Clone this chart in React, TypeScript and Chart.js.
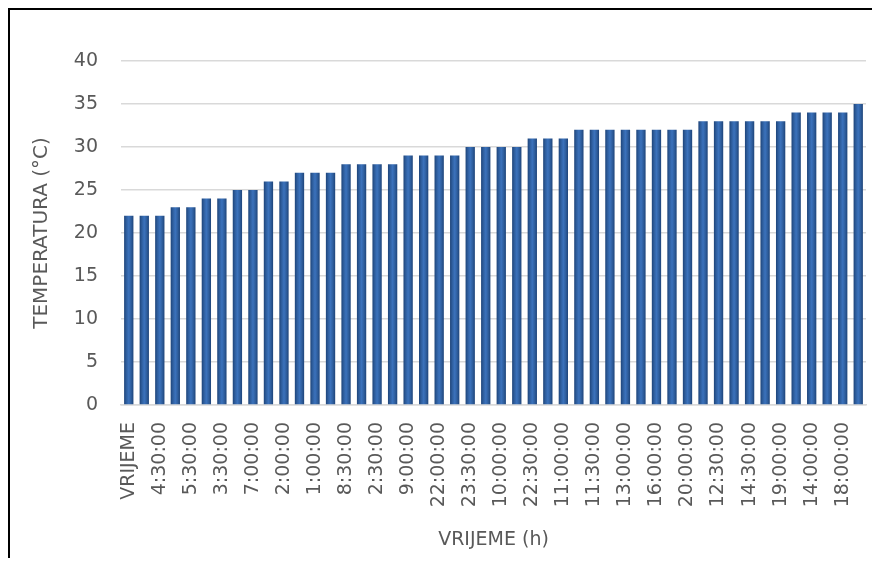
import React, { useEffect, useRef } from "react";
import { Chart, registerables } from "chart.js";

Chart.register(...registerables);

const categories: string[] = [
  "VRIJEME", "5:00:00", "4:30:00", "6:00:00", "5:30:00", "4:00:00", "3:30:00", "3:00:00",
  "7:00:00", "6:30:00", "2:00:00", "1:30:00", "1:00:00", "0:30:00", "8:30:00", "0:00:00",
  "2:30:00", "7:30:00", "9:00:00", "8:00:00", "22:00:00", "21:30:00", "23:30:00", "23:00:00",
  "10:00:00", "9:30:00", "22:30:00", "21:00:00", "11:00:00", "10:30:00", "11:30:00", "12:00:00",
  "13:00:00", "20:30:00", "16:00:00", "19:30:00", "20:00:00", "18:30:00", "12:30:00", "13:30:00",
  "14:30:00", "17:00:00", "19:00:00", "15:30:00", "14:00:00", "16:30:00", "18:00:00", "15:00:00",
];

const temperatures: number[] = [
  22, 22, 22, 23, 23, 24, 24, 25,
  25, 26, 26, 27, 27, 27, 28, 28,
  28, 28, 29, 29, 29, 29, 30, 30,
  30, 30, 31, 31, 31, 32, 32, 32,
  32, 32, 32, 32, 32, 33, 33, 33,
  33, 33, 33, 34, 34, 34, 34, 35,
];

const yMin = 0;
const yMax = 40;
const yStep = 5;

const xTitle = "VRIJEME (h)";
const yTitle = "TEMPERATURA (°C)";

const TEXT = "#595959";
const GRID = "#D9D9D9";
const FONT = { family: "'DejaVu Sans', sans-serif", size: 19 };
const TITLE_FONT = { family: "'DejaVu Sans', sans-serif", size: 20 };
const BAR_PCT = 0.6;

function barFill(context: any) {
  const chart = context.chart;
  const xs = chart.scales && chart.scales.x;
  if (!xs || context.dataIndex === undefined) return "#3468B0";
  const cx = xs.getPixelForValue(context.dataIndex);
  const w = (xs.width / categories.length) * BAR_PCT;
  if (!isFinite(cx) || !isFinite(w) || w <= 0) return "#3468B0";
  const g = chart.ctx.createLinearGradient(cx - w / 2, 0, cx + w / 2, 0);
  g.addColorStop(0, "#1E4479");
  g.addColorStop(0.25, "#2F5F9F");
  g.addColorStop(0.5, "#3B72BC");
  g.addColorStop(0.75, "#2F5F9F");
  g.addColorStop(1, "#1E4479");
  return g;
}

export default function App() {
  const ref = useRef<HTMLCanvasElement>(null);

  useEffect(() => {
    document.documentElement.style.overflow = "hidden";
    const canvas = ref.current;
    if (!canvas) return;
    const chart = new Chart(canvas, {
      type: "bar",
      data: {
        labels: categories,
        datasets: [
          {
            data: temperatures,
            backgroundColor: barFill,
            borderWidth: 0,
            categoryPercentage: 1,
            barPercentage: BAR_PCT,
          },
        ],
      },
      options: {
        responsive: false,
        animation: false,
        layout: { padding: { top: 51, right: 14, left: 0, bottom: 0 } },
        plugins: { legend: { display: false }, tooltip: { enabled: false } },
        scales: {
          x: {
            grid: { display: false, drawTicks: false },
            border: { display: true, color: GRID, width: 1.5 },
            ticks: {
              autoSkip: false,
              maxRotation: 90,
              minRotation: 90,
              padding: 17,
              color: TEXT,
              font: FONT,
              callback: (_v: any, i: number) => (i % 2 === 0 ? categories[i] : ""),
            },
            title: {
              display: true,
              text: xTitle,
              color: TEXT,
              font: FONT,
              padding: { top: 0, bottom: 7 },
            },
            afterFit: (s: any) => {
              s.height = 153;
              s.paddingLeft = 0;
              s.paddingRight = 0;
            },
          },
          y: {
            min: yMin,
            max: yMax,
            ticks: { stepSize: yStep, padding: 23, color: TEXT, font: FONT },
            grid: { color: GRID, lineWidth: 1.5, drawTicks: false },
            border: { display: false },
            title: {
              display: true,
              text: yTitle,
              color: TEXT,
              font: TITLE_FONT,
              padding: { top: 20, bottom: 0 },
            },
            afterFit: (s: any) => {
              s.width = 111;
            },
          },
        },
      },
    });
    return () => chart.destroy();
  }, []);

  return (
    <div
      style={{
        width: 870,
        height: 548,
        borderTop: "2px solid #000",
        borderLeft: "2px solid #000",
        background: "#fff",
      }}
    >
      <canvas ref={ref} width={870} height={548} style={{ display: "block" }} />
    </div>
  );
}
